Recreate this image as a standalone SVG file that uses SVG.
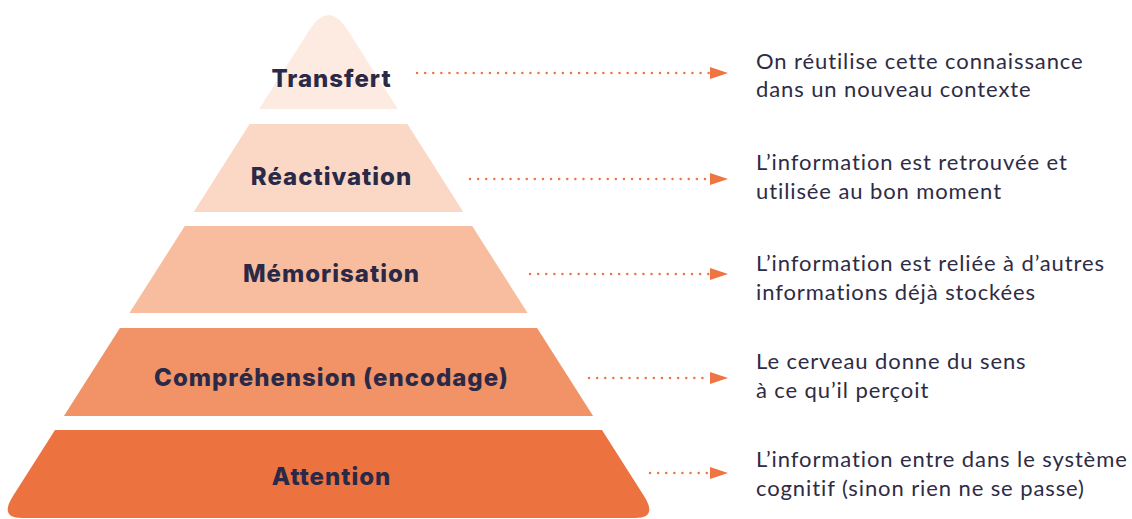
<svg xmlns="http://www.w3.org/2000/svg" width="1132" height="519" viewBox="0 0 1132 519">
  <defs>
    <style>
      .lbl { font-family: "Inter", "Noto Sans", "Liberation Sans", sans-serif; font-weight: 800; font-size: 24px; letter-spacing: 1px; fill: #2A2947; text-anchor: middle; }
      .desc { font-family: "Lato", "Open Sans", "Liberation Sans", sans-serif; font-weight: 400; font-size: 22px; letter-spacing: 0.9px; fill: #2E2C45; }
      .dots { fill: none; stroke: #EE7442; stroke-width: 2.4; stroke-linecap: round; stroke-dasharray: 0.1 8; }
    </style>
    <marker id="arr" markerUnits="userSpaceOnUse" markerWidth="20" markerHeight="14" refX="0" refY="7" orient="auto">
      <path d="M0,1 L18,7 L0,13 Z" fill="#EE7442"/>
    </marker>
  </defs>
  <rect width="1132" height="519" fill="#FFFFFF"/>

  <g id="level-transfert">
    <path d="M259.2,109 L309.5,30 Q328.5,0 347.5,30 L397.8,109 Z" fill="#FDEBE2"/>
    <text class="lbl" x="331.5" y="87">Transfert</text>
  </g>
  <g id="level-reactivation">
    <path d="M249.6,124 L407.4,124 L463.3,212 L193.7,212 Z" fill="#FBD8C5"/>
    <text class="lbl" x="331.5" y="185">Réactivation</text>
  </g>
  <g id="level-memorisation">
    <path d="M184.8,226 L472.2,226 L527.6,313 L129.4,313 Z" fill="#F8BD9E"/>
    <text class="lbl" x="331.5" y="282">Mémorisation</text>
  </g>
  <g id="level-comprehension">
    <path d="M119.9,328 L537.1,328 L593.1,416 L63.9,416 Z" fill="#F19366"/>
    <text class="lbl" x="331.5" y="386">Compréhension (encodage)</text>
  </g>
  <g id="level-attention">
    <path d="M55,430 L602,430 L644,496 Q658,518 635,518 L22,518 Q-1,518 13,496 Z" fill="#EC723F"/>
    <text class="lbl" x="331.5" y="485">Attention</text>
  </g>

  <g id="connectors">
    <path class="dots" d="M417,73 L710,73" marker-end="url(#arr)"/>
    <path class="dots" d="M470,179 L710,179" marker-end="url(#arr)"/>
    <path class="dots" d="M530,274 L710,274" marker-end="url(#arr)"/>
    <path class="dots" d="M589,378 L710,378" marker-end="url(#arr)"/>
    <path class="dots" d="M650,473 L710,473" marker-end="url(#arr)"/>
  </g>

  <g id="desc-transfert">
    <text class="desc" x="756" y="69">On réutilise cette connaissance</text>
    <text class="desc" x="756" y="97">dans un nouveau contexte</text>
  </g>
  <g id="desc-reactivation">
    <text class="desc" x="756" y="170">L’information est retrouvée et</text>
    <text class="desc" x="756" y="199">utilisée au bon moment</text>
  </g>
  <g id="desc-memorisation">
    <text class="desc" x="756" y="271">L’information est reliée à d’autres</text>
    <text class="desc" x="756" y="300">informations déjà stockées</text>
  </g>
  <g id="desc-comprehension">
    <text class="desc" x="756" y="369">Le cerveau donne du sens</text>
    <text class="desc" x="756" y="398">à ce qu’il perçoit</text>
  </g>
  <g id="desc-attention">
    <text class="desc" x="756" y="467">L’information entre dans le système</text>
    <text class="desc" x="756" y="496">cognitif (sinon rien ne se passe)</text>
  </g>
</svg>
